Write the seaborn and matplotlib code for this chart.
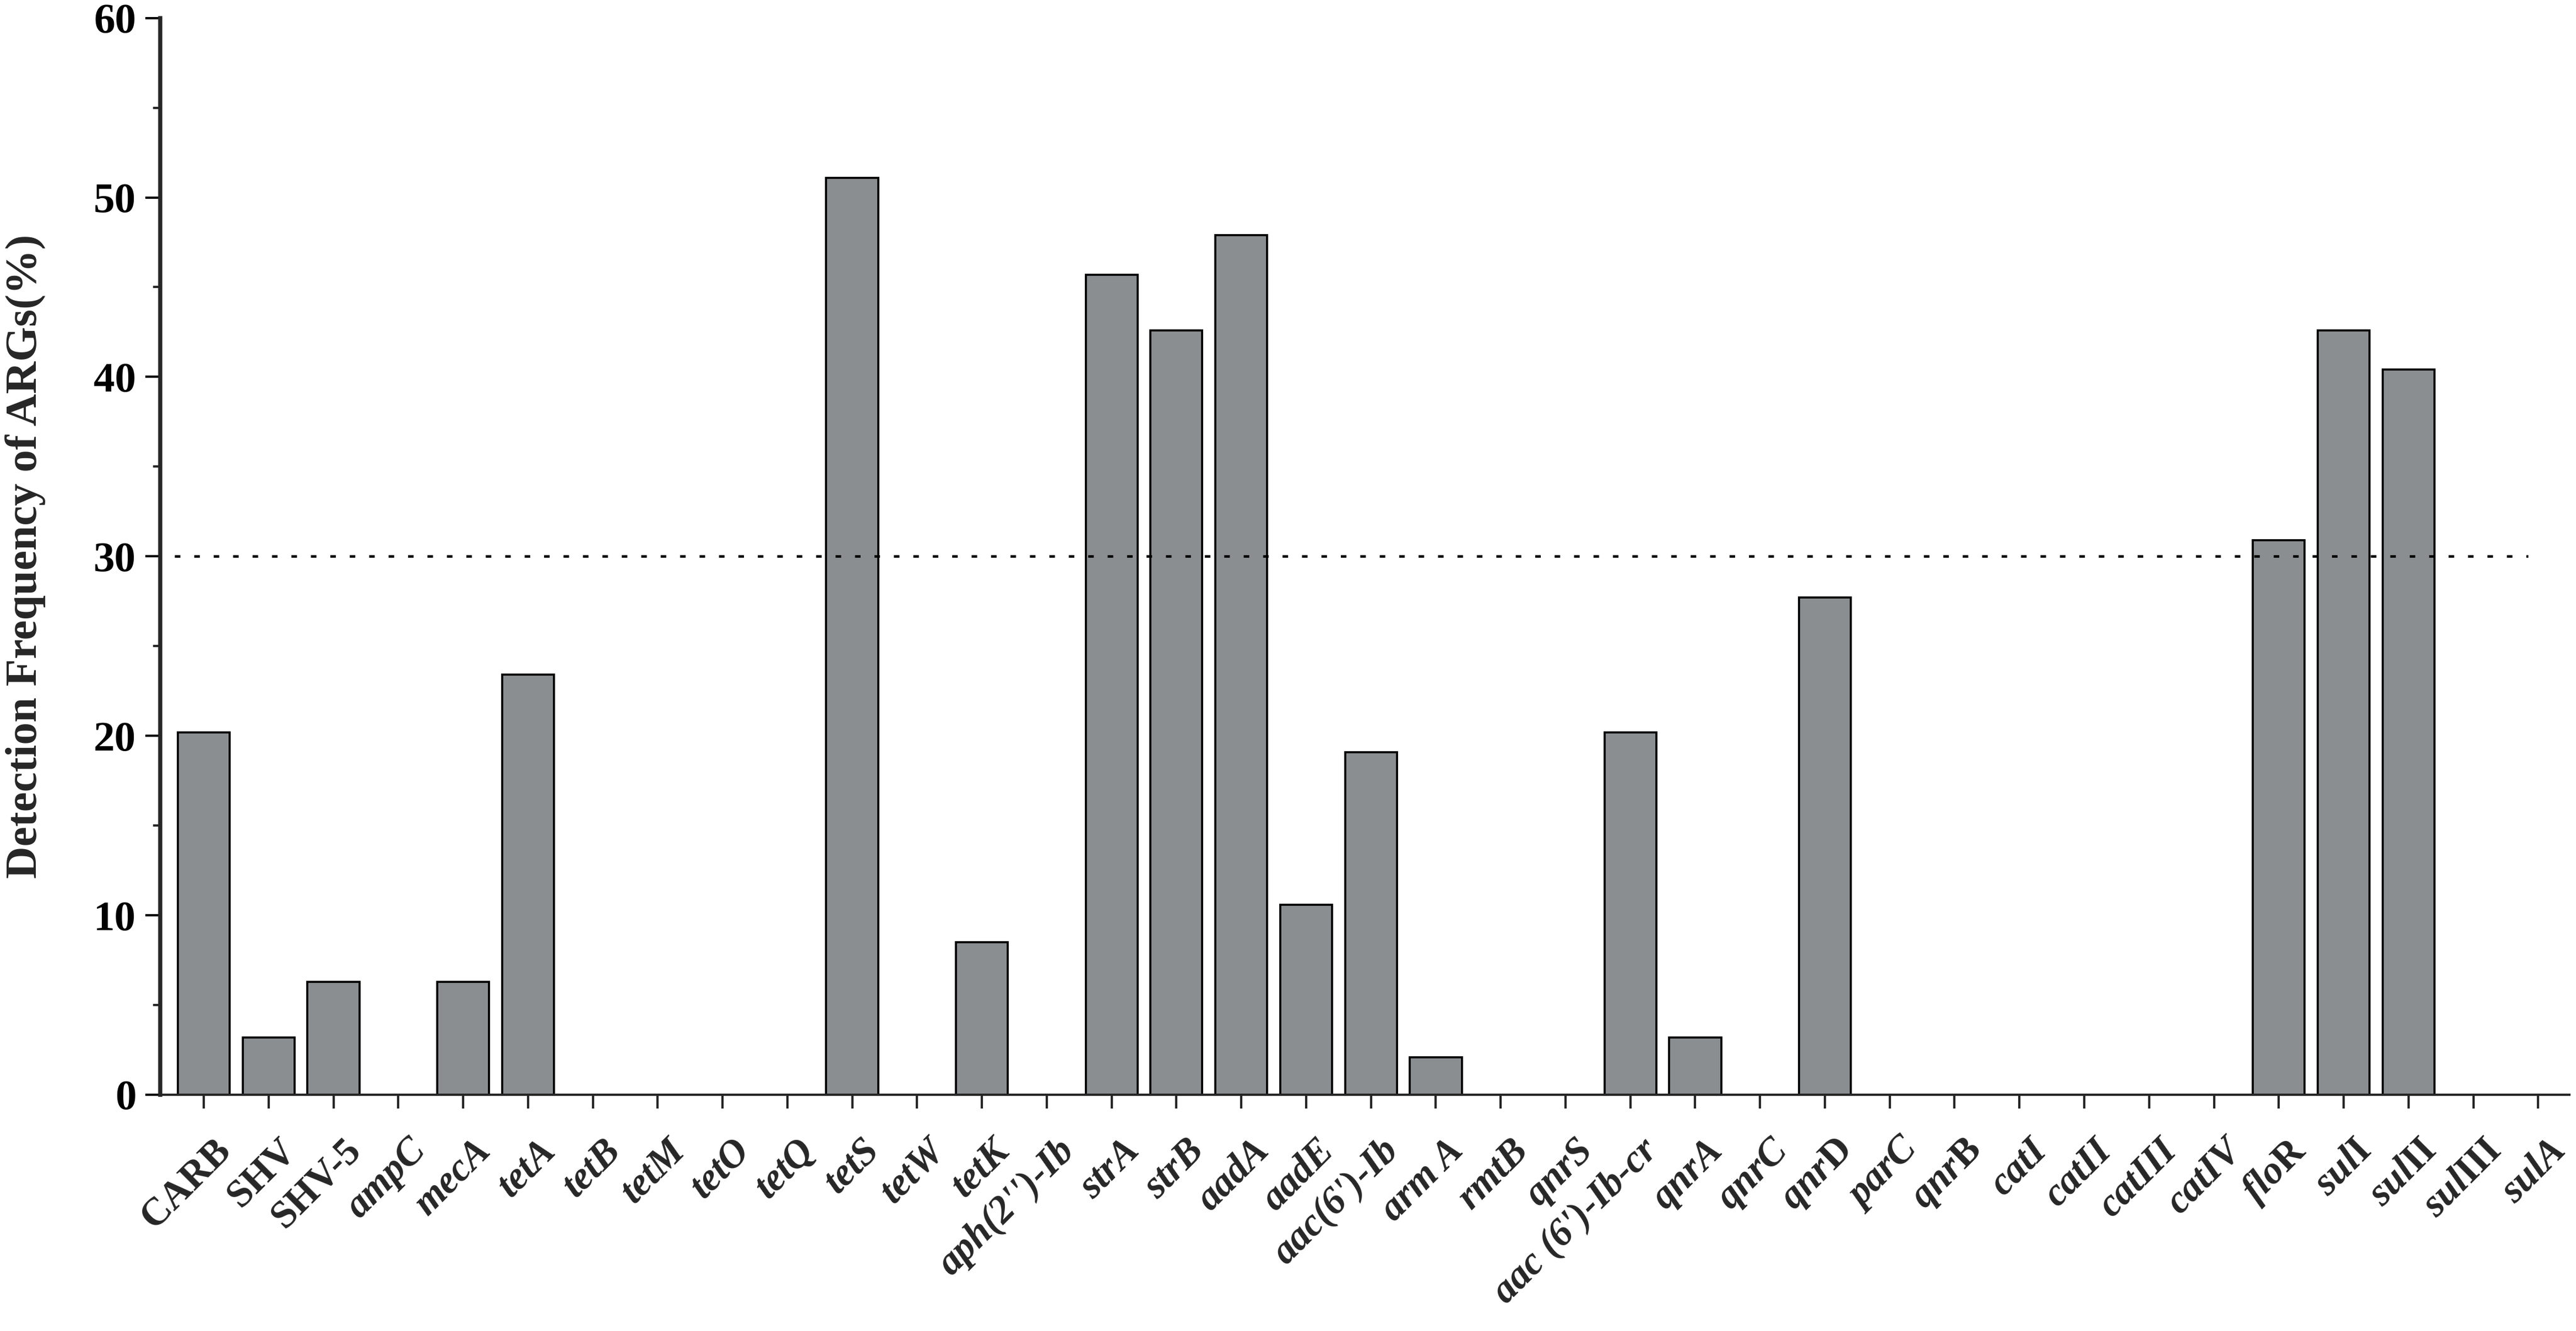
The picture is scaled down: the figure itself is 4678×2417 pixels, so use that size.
import matplotlib
matplotlib.use("Agg")
import matplotlib.pyplot as plt
import matplotlib.transforms as mtransforms
from matplotlib.ticker import MultipleLocator
import numpy as np
import pandas as pd
import seaborn as sns

# ---------------- data ----------------
genes = ["CARB", "SHV", "SHV-5", "ampC", "mecA", "tetA", "tetB", "tetM", "tetO",
         "tetQ", "tetS", "tetW", "tetK", "aph(2'')-Ib", "strA", "strB", "aadA",
         "aadE", "aac(6')-Ib", "arm A", "rmtB", "qnrS", "aac (6')-Ib-cr", "qnrA",
         "qnrC", "qnrD", "parC", "qnrB", "catI", "catII", "catIII", "catIV",
         "floR", "sulI", "sulII", "sulIII", "sulA"]
freq = [20.2, 3.2, 6.3, 0.0, 6.3, 23.4, 0.0, 0.0, 0.0,
        0.0, 51.1, 0.0, 8.5, 0.0, 45.7, 42.6, 47.9,
        10.6, 19.1, 2.1, 0.0, 0.0, 20.2, 3.2,
        0.0, 27.7, 0.0, 0.0, 0.0, 0.0, 0.0, 0.0,
        30.9, 42.6, 40.4, 0.0, 0.0]
# tick label text (mathtext for mixed italic/upright names)
upright_labels = ["CARB", "SHV", "SHV-5"]
mixed_labels = {
    "qnrD": r"$\mathit{qnr}\mathrm{D}$",
    "qnrB": r"$\mathit{qnr}\mathrm{B}$",
    "floR": r"$\mathit{flo}\mathrm{R}$",
    "sulI": r"$\mathit{sul}\mathrm{I}$",
    "sulII": r"$\mathit{sul}\mathrm{II}$",
    "sulIII": r"$\mathit{sul}\mathrm{III}$",
}
threshold = 30
y_ticks = [0, 10, 20, 30, 40, 50, 60]
y_label = "Detection Frequency of ARGs(%)"

BAR_COLOR = "#8A8E91"

# ---------------- style ----------------
sns.set_style("ticks")
plt.rcParams["font.family"] = ["Liberation Serif", "DejaVu Serif"]
plt.rcParams["font.weight"] = "bold"
plt.rcParams["mathtext.fontset"] = "custom"
plt.rcParams["mathtext.rm"] = "Liberation Serif:bold"
plt.rcParams["mathtext.it"] = "Liberation Serif:italic:bold"
plt.rcParams["mathtext.bf"] = "Liberation Serif:bold"

W, H, DPI = 4678, 2417, 300
fig = plt.figure(figsize=(W / DPI, H / DPI), dpi=DPI)
ax = fig.add_axes([0.0622, 0.1775, 0.9352, 0.809])

df = pd.DataFrame({"gene": genes, "freq": freq})
sns.barplot(data=df, x="gene", y="freq", order=genes, color=BAR_COLOR,
            edgecolor="black", linewidth=0.9, width=0.8, saturation=1,
            errorbar=None, ax=ax, zorder=2)

ax.axhline(threshold, xmin=0.006, xmax=0.983, color="black", linewidth=1.1,
           linestyle=(0, (2.2, 5.5)), zorder=3)

ax.set_xlim(-0.671, 36.48)
ax.set_ylim(0, 60)
ax.set_yticks(y_ticks)
ax.set_yticklabels([str(v) for v in y_ticks])
ax.yaxis.set_minor_locator(MultipleLocator(5))

for s in ["top", "right"]:
    ax.spines[s].set_visible(False)
ax.spines["left"].set_linewidth(1.8)
ax.spines["bottom"].set_linewidth(1.0)

ax.tick_params(axis="y", which="major", length=6.5, width=1.0, pad=4,
               labelsize=18.5, direction="out", colors="black")
ax.tick_params(axis="y", which="minor", length=3.2, width=1.0, direction="out")
ax.tick_params(axis="x", which="major", length=6, width=1.0, pad=16,
               direction="out")

tick_texts = [mixed_labels.get(g, g) for g in genes]
ax.set_xticks(range(len(genes)))
ax.set_xticklabels(tick_texts, rotation=45, ha="right", va="center",
                   rotation_mode="anchor", fontsize=17, fontweight="bold")
offset = mtransforms.ScaledTranslation(40 / DPI, 0, fig.dpi_scale_trans)
for g, lab in zip(genes, ax.get_xticklabels()):
    lab.set_fontstyle("normal" if g in upright_labels else "italic")
    lab.set_transform(lab.get_transform() + offset)
for lab in ax.get_yticklabels():
    lab.set_fontweight("bold")

ax.set_xlabel("")
ax.set_ylabel(y_label, fontsize=19.5, fontweight="bold", labelpad=21)

fig.savefig("out.png", dpi=DPI, facecolor="white")
